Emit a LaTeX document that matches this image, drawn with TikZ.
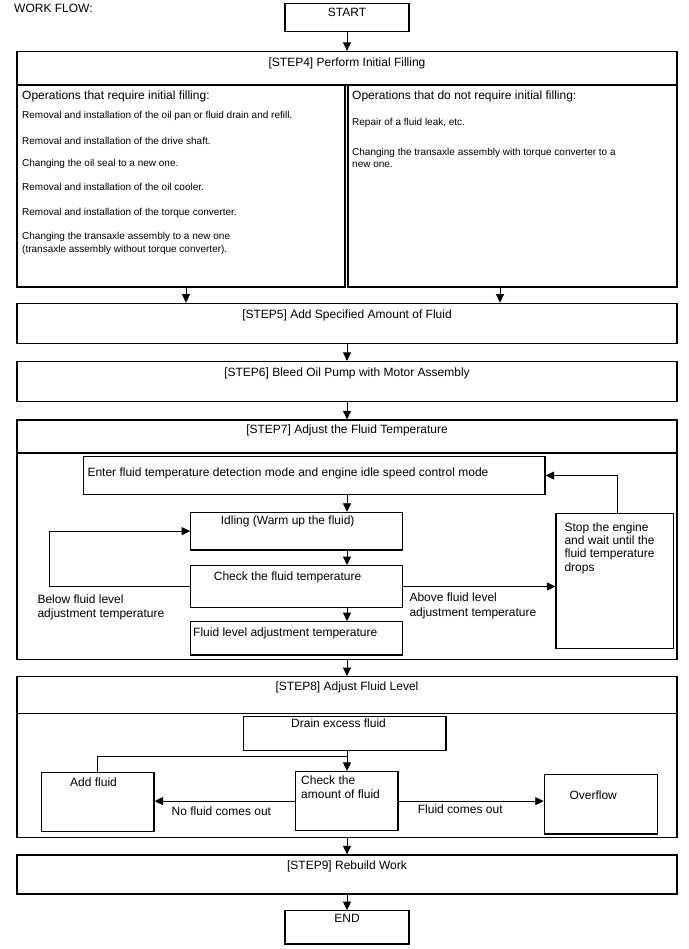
\documentclass[tikz,border=0pt]{standalone}
\usepackage{fontspec}
\setmainfont{Liberation Sans}
\usetikzlibrary{arrows.meta,fit}
\begin{document}
\begin{tikzpicture}[x=1pt,y=-1pt,
  box/.style={draw=black,line width=1.3pt,inner sep=0pt,rectangle},
  ibox/.style={draw=black,line width=1.1pt,inner sep=0pt,rectangle},
  txt/.style={inner sep=0pt,font=\fontsize{12}{13.3}\selectfont},
  sml/.style={inner sep=0pt,font=\fontsize{10}{12}\selectfont},
  arr/.style={line width=0.9pt,-{Triangle[length=8.5pt,width=8pt]}},
  ln/.style={line width=0.9pt}]
\useasboundingbox (0,0) rectangle (688,949);
\fill[white] (0,0) rectangle (688,949);

% boxes
\node[box,fit={(285,3.3) (409,31.5)}] (start) {};
\node[box,fit={(17,51.5) (677,85)}] (s4t) {};
\node[box,fit={(17,85) (345,287)}] (s4l) {};
\node[box,fit={(348,85) (677,287)}] (s4r) {};
\node[box,fit={(17,303.3) (677,343.3)}] (s5) {};
\node[box,fit={(17,361.5) (677,401.5)}] (s6) {};
\node[box,fit={(17,420) (677,453)}] (s7t) {};
\node[box,fit={(17,453) (677,659.5)}] (s7b) {};
\node[ibox,fit={(83.3,456.5) (545,494.5)}] (enter) {};
\node[ibox,fit={(190.7,512.3) (402.7,550)}] (idle) {};
\node[ibox,fit={(190.7,565.7) (402.7,607.3)}] (check) {};
\node[ibox,fit={(190.7,621.7) (402.7,655)}] (flt) {};
\node[ibox,fit={(556,513.3) (673.3,648.3)}] (stop) {};
\node[box,fit={(17,676.7) (677,713.3)}] (s8t) {};
\node[box,fit={(17,713.3) (677,837.3)}] (s8b) {};
\node[ibox,fit={(243.5,716.5) (446,750.7)}] (drain) {};
\node[ibox,fit={(41.7,772.3) (154,831.7)}] (add) {};
\node[ibox,fit={(295.5,771.5) (398,830.7)}] (amt) {};
\node[ibox,fit={(544.3,774.3) (657.7,834)}] (over) {};
\node[box,fit={(17,855) (677,894)}] (s9) {};
\node[box,fit={(285,910.7) (409,944)}] (end) {};

% texts
\node[txt,anchor=base west] (wf) at (14,12.6) {WORK FLOW:};
\node[txt,anchor=base] (tstart) at (347,16.6) {START};
\node[txt,anchor=base] (t4) at (347,66.3) {[STEP4] Perform Initial Filling};
\node[txt,anchor=base west] (hl) at (22,99.8) {Operations that require initial filling:};
\node[sml,anchor=base west] (l1) at (22,118.6) {Removal and installation of the oil pan or fluid drain and refill.};
\node[sml,anchor=base west] (l2) at (22,144.1) {Removal and installation of the drive shaft.};
\node[sml,anchor=base west] (l3) at (22,166.6) {Changing the oil seal to a new one.};
\node[sml,anchor=base west] (l4) at (22,190.1) {Removal and installation of the oil cooler.};
\node[sml,anchor=base west] (l5) at (22,215.1) {Removal and installation of the torque converter.};
\node[sml,anchor=base west] (l6) at (22,239.6) {Changing the transaxle assembly to a new one};
\node[sml,anchor=base west] (l7) at (22,252.1) {(transaxle assembly without torque converter).};
\node[txt,anchor=base west] (hr) at (352,99.8) {Operations that do not require initial filling:};
\node[sml,anchor=base west] (r1) at (352,125.1) {Repair of a fluid leak, etc.};
\node[sml,anchor=base west] (r2) at (352,155.1) {Changing the transaxle assembly with torque converter to a};
\node[sml,anchor=base west] (r3) at (352,167.1) {new one.};
\node[txt,anchor=base] (t5) at (347,318.3) {[STEP5] Add Specified Amount of Fluid};
\node[txt,anchor=base] (t6) at (347,376) {[STEP6] Bleed Oil Pump with Motor Assembly};
\node[txt,anchor=base] (t7) at (347,433.3) {[STEP7] Adjust the Fluid Temperature};
\node[txt,anchor=base west] (tenter) at (87.3,476) {Enter fluid temperature detection mode and engine idle speed control mode};
\node[txt,anchor=base west] (tidle) at (220.7,524.3) {Idling (Warm up the fluid)};
\node[txt,anchor=base west] (tcheck) at (213.7,580) {Check the fluid temperature};
\node[txt,anchor=base west] (tflt) at (193,636) {Fluid level adjustment temperature};
\node[txt,anchor=base west] (st1) at (564.3,531.6) {Stop the engine};
\node[txt,anchor=base west] (st2) at (564.3,544.8) {and wait until the};
\node[txt,anchor=base west] (st3) at (564.3,557.8) {fluid temperature};
\node[txt,anchor=base west] (st4) at (564.3,571) {drops};
\node[txt,anchor=base west] (bl1) at (37.3,603.3) {Below fluid level};
\node[txt,anchor=base west] (bl2) at (37.3,617.6) {adjustment temperature};
\node[txt,anchor=base west] (ab1) at (409.3,601) {Above fluid level};
\node[txt,anchor=base west] (ab2) at (409.3,616) {adjustment temperature};
\node[txt,anchor=base] (t8) at (347,690.3) {[STEP8] Adjust Fluid Level};
\node[txt,anchor=base west] (tdrain) at (291,727.8) {Drain excess fluid};
\node[txt,anchor=base west] (tadd) at (70,786) {Add fluid};
\node[txt,anchor=base west] (ta1) at (301,784.3) {Check the};
\node[txt,anchor=base west] (ta2) at (301,798.1) {amount of fluid};
\node[txt,anchor=base west] (tover) at (569.3,799.3) {Overflow};
\node[txt,anchor=base west] (tno) at (171.5,815.3) {No fluid comes out};
\node[txt,anchor=base west] (tyes) at (417.7,813.3) {Fluid comes out};
\node[txt,anchor=base] (t9) at (347,869.3) {[STEP9] Rebuild Work};
\node[txt,anchor=base] (tend) at (347,922.6) {END};

% connectors
\draw[arr] (start.south) -- (start.south |- s4t.north);
\draw[arr] ([xshift=5pt]s4l.south) -- ([xshift=5pt]s4l.south |- s5.north);
\draw[arr] ([xshift=-12.5pt]s4r.south) -- ([xshift=-12.5pt]s4r.south |- s5.north);
\draw[arr] (s5.south) -- (s6.north);
\draw[arr] (s6.south) -- (s7t.north);
\draw[arr] (enter.south -| s7b.north) -- (idle.north -| s7b.north);
\draw[arr] (idle.south -| s7b.north) -- (check.north -| s7b.north);
\draw[arr] (check.south -| s7b.north) -- (flt.north -| s7b.north);
\draw[arr] (check.west) -- ++(-140.7,0) |- (idle.west);
\draw[arr] (check.east) -- (stop.west |- check.east);
\draw[arr] ([xshift=3pt]stop.north) |- (enter.east);
\draw[arr] (s7b.south) -- (s8t.north);
\draw[arr] (drain.south -| s8b.north) -- (amt.north -| s8b.north);
\coordinate (join) at (347,756);
\draw[ln] (add.north) |- (join);
\draw[arr] (amt.west) -- (add.east |- amt.west);
\draw[arr] (amt.east) -- (over.west |- amt.east);
\draw[arr] (s8b.south) -- (s9.north);
\draw[arr] (s9.south) -- (end.north);
\end{tikzpicture}
\end{document}
